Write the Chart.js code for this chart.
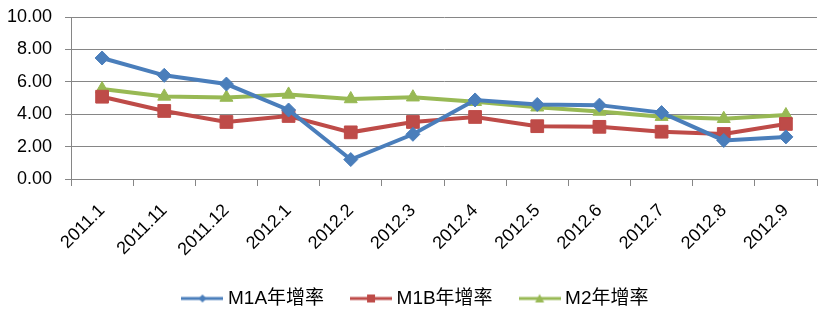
<!DOCTYPE html>
<html>
<head>
<meta charset="utf-8">
<script src="https://cdn.jsdelivr.net/npm/chart.js@4/dist/chart.umd.min.js"></script>
<style>
  html, body { margin: 0; padding: 0; background: #ffffff; }
  #wrap { width: 833px; height: 322px; }
</style>
</head>
<body>
<div id="wrap"><canvas id="c" width="833" height="322"></canvas></div>
<script>
// Monthly periods
const categories = ['2011.1', '2011.11', '2011.12', '2012.1', '2012.2', '2012.3',
                    '2012.4', '2012.5', '2012.6', '2012.7', '2012.8', '2012.9'];

// Year-on-year growth rates (%)
const m1a = [7.47, 6.40, 5.86, 4.26, 1.20, 2.76, 4.88, 4.60, 4.56, 4.10, 2.38, 2.60];
const m1b = [5.08, 4.20, 3.52, 3.89, 2.88, 3.52, 3.83, 3.26, 3.22, 2.92, 2.78, 3.40];
const m2  = [5.55, 5.10, 5.03, 5.22, 4.94, 5.05, 4.77, 4.43, 4.17, 3.85, 3.72, 3.95];

const seriesNames = ['M1A年增率', 'M1B年增率', 'M2年增率'];
const yTicks = [0, 2, 4, 6, 8, 10];

const colors = ['#4A7EBB', '#BE4B48', '#98B954'];
const styles = ['rectRot', 'rect', 'triangle'];
const radii = [7, 9, 7.5];

const FONT = "'Liberation Sans', 'Noto Sans CJK TC', sans-serif";

// Plot area frame (canvas pixels)
const PLOT_LEFT = 71;
const PLOT_TOP = 17;
const PLOT_BOTTOM = 179;
const CANVAS_H = 322;
const PAD_BOTTOM = 4;
const LEGEND_SHIFT = 9;

// Legend swatch: a short line with a small series marker in its middle
function legendSwatch(color, style) {
  const cv = document.createElement('canvas');
  cv.width = 42; cv.height = 14;
  const g = cv.getContext('2d');
  g.strokeStyle = color; g.fillStyle = color; g.lineWidth = 3;
  g.beginPath(); g.moveTo(0, 7); g.lineTo(42, 7); g.stroke();
  g.beginPath();
  if (style === 'rectRot') {
    g.moveTo(21, 3); g.lineTo(25, 7); g.lineTo(21, 11); g.lineTo(17, 7);
  } else if (style === 'rect') {
    g.rect(17, 3, 8, 8);
  } else {
    g.moveTo(21, 2.5); g.lineTo(25.5, 11); g.lineTo(16.5, 11);
  }
  g.closePath(); g.fill();
  return cv;
}

const seriesData = [m1a, m1b, m2];
const datasets = seriesData.map((vals, i) => ({
  label: seriesNames[i],
  data: vals,
  borderColor: colors[i],
  backgroundColor: colors[i],
  borderWidth: 4,
  pointStyle: styles[i],
  pointRadius: radii[i],
  pointHoverRadius: radii[i],
  pointBackgroundColor: colors[i],
  pointBorderColor: colors[i],
  pointBorderWidth: 1,
  tension: 0,
  fill: false,
  clip: false
}));

const swatches = colors.map((c, i) => legendSwatch(c, styles[i]));

// Nudge the centred legend row slightly to the right
const legendNudge = {
  id: 'legendNudge',
  afterLayout(chart) {
    if (chart.legend) {
      chart.legend.left += LEGEND_SHIFT;
      chart.legend.right += LEGEND_SHIFT;
    }
  }
};

new Chart(document.getElementById('c'), {
  type: 'line',
  data: { labels: categories, datasets: datasets },
  plugins: [legendNudge],
  options: {
    responsive: false,
    animation: false,
    events: [],
    layout: { autoPadding: false, padding: { left: 0, right: 16, top: PLOT_TOP, bottom: PAD_BOTTOM } },
    plugins: {
      tooltip: { enabled: false },
      legend: {
        position: 'bottom',
        labels: {
          usePointStyle: true,
          pointStyleWidth: 32,
          padding: 31,
          color: '#000000',
          font: { family: FONT, size: 19 },
          generateLabels: (chart) => chart.data.datasets.map((ds, i) => ({
            text: ds.label,
            pointStyle: swatches[i],
            fillStyle: ds.borderColor,
            strokeStyle: ds.borderColor,
            lineWidth: 0,
            hidden: false,
            datasetIndex: i,
            fontColor: '#000000'
          }))
        }
      }
    },
    scales: {
      x: {
        type: 'category',
        offset: true,
        afterFit: (s) => {
          const lg = s.chart.legend;
          const lh = (lg && lg.height) ? lg.height : 57;
          s.height = CANVAS_H - PAD_BOTTOM - PLOT_BOTTOM - lh;
        },
        border: { color: '#868686', width: 1 },
        grid: { offset: true, drawOnChartArea: false, drawTicks: true, tickLength: 7, color: '#868686' },
        ticks: {
          minRotation: 45, maxRotation: 45, autoSkip: false, padding: 14,
          color: '#000000', font: { family: FONT, size: 18 }
        }
      },
      y: {
        min: 0, max: 10,
        afterFit: (s) => { s.width = PLOT_LEFT; s.paddingTop = 0; s.paddingBottom = 0; },
        afterBuildTicks: (s) => { s.ticks = yTicks.map(v => ({ value: v })); },
        border: { color: '#868686', width: 1 },
        grid: { color: '#868686', lineWidth: 1, drawTicks: true, tickLength: 6 },
        ticks: {
          padding: 13,
          color: '#000000',
          font: { family: FONT, size: 18 },
          callback: (v) => Number(v).toFixed(2)
        }
      }
    }
  }
});
</script>
</body>
</html>
